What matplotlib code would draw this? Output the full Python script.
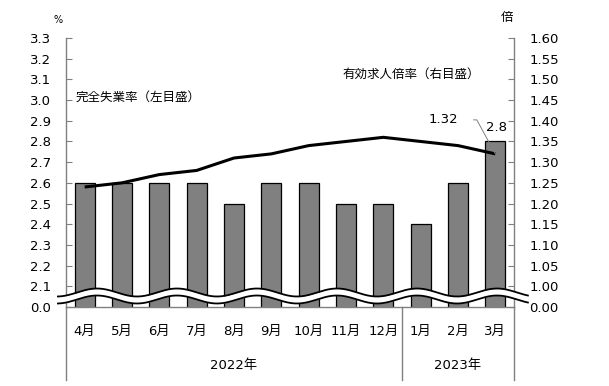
import matplotlib
matplotlib.use('Agg')
import matplotlib.pyplot as plt
import matplotlib.transforms as mtransforms
import numpy as np

plt.rcParams['font.family'] = ['DejaVu Sans', 'Noto Sans CJK JP']
plt.rcParams['font.size'] = 9

# data
months = ['4月', '5月', '6月', '7月', '8月', '9月', '10月', '11月', '12月', '1月', '2月', '3月']
years = ['2022年', '2023年']
year_span = [(0, 8), (9, 11)]
unemployment = [2.6, 2.6, 2.6, 2.6, 2.5, 2.6, 2.6, 2.5, 2.5, 2.4, 2.6, 2.8]
job_ratio = [1.24, 1.25, 1.27, 1.28, 1.31, 1.32, 1.34, 1.35, 1.36, 1.35, 1.34, 1.32]

left_ticks = [2.0, 2.1, 2.2, 2.3, 2.4, 2.5, 2.6, 2.7, 2.8, 2.9, 3.0, 3.1, 3.2, 3.3]
left_labels = ['0.0'] + ['%.1f' % t for t in left_ticks[1:]]
right_ticks = [0.95, 1.00, 1.05, 1.10, 1.15, 1.20, 1.25, 1.30, 1.35, 1.40, 1.45, 1.50, 1.55, 1.60]
right_labels = ['0.00'] + ['%.2f' % t for t in right_ticks[1:]]

grey = '#808080'

fig = plt.figure(figsize=(6.09, 3.86), dpi=100)
ax1 = fig.add_axes([66/609, 1-307/386, 448/609, 269/386])
ax2 = ax1.twinx()

x = np.arange(len(months))
ax1.bar(x, unemployment, width=0.54, color='#808080', edgecolor='black', linewidth=0.9, zorder=2)
ax1.set_ylim(2.0, 3.3)
ax1.set_xlim(-0.5, len(months) - 0.5)
ax1.set_yticks(left_ticks)
ax1.set_yticklabels(left_labels)

ax2.plot(x, job_ratio, color='black', lw=2.2, solid_capstyle='butt', zorder=3)
ax2.set_ylim(0.95, 1.60)
ax2.set_yticks(right_ticks)
ax2.set_yticklabels(right_labels)

for ax in (ax1, ax2):
    for s in ax.spines.values():
        s.set_visible(False)
ax1.spines['left'].set_visible(True)
ax1.spines['bottom'].set_visible(True)
ax2.spines['right'].set_visible(True)
for s in (ax1.spines['left'], ax1.spines['bottom'], ax2.spines['right']):
    s.set_color(grey)
    s.set_linewidth(1.0)

ax1.tick_params(axis='y', direction='in', length=4, color=grey, pad=11, labelsize=9.5)
ax2.tick_params(axis='y', direction='in', length=4, color=grey, pad=11, labelsize=9.5)
ax1.set_xticks(x)
ax1.set_xticklabels(months)
ax1.tick_params(axis='x', length=0, pad=13, labelsize=9.5)

# extended axis lines and year separator below the plot
ext = -0.271
for xa in (0.0, 1.0):
    ax1.plot([xa, xa], [0, ext], transform=ax1.transAxes, color=grey, lw=1.0, clip_on=False)
sep = ax1.get_xaxis_transform()
ax1.plot([year_span[0][1] + 0.5] * 2, [0, ext], transform=sep, color=grey, lw=1.0, clip_on=False)
for name, (a, b) in zip(years, year_span):
    ax1.text((a + b) / 2, -0.219, name, transform=sep, ha='center', va='center', fontsize=9.5)

# wavy axis break
blend = mtransforms.blended_transform_factory(ax2.transAxes, ax2.transData)
px = 0.05 / (269 / 13)
xs = np.linspace(-0.018, 1.031, 400)
yc = 0.95 + 11 * px + 4 * px * np.cos(2 * np.pi * (xs - 0.0692) / 0.1786)
ax2.fill_between(xs, yc - 3.5 * px, yc + 3.5 * px, color='white', transform=blend,
                 clip_on=False, zorder=5, lw=0)
ax2.plot(xs, yc + 3.5 * px, color='black', lw=1.3, transform=blend, clip_on=False, zorder=6)
ax2.plot(xs, yc - 3.5 * px, color='black', lw=1.3, transform=blend, clip_on=False, zorder=6)
ax2.set_ylim(0.95, 1.60)
ax1.set_xlim(-0.5, len(months) - 0.5)

# labels
ax1.text(0.022, 0.781, '完全失業率（左目盛）', transform=ax1.transAxes, ha='left', va='center', fontsize=9)
ax1.text(0.618, 0.866, '有効求人倍率（右目盛）', transform=ax1.transAxes, ha='left', va='center', fontsize=9)
ax1.text(-0.018, 1.067, '%', transform=ax1.transAxes, ha='center', va='center', fontsize=7)
ax1.text(0.984, 1.078, '倍', transform=ax1.transAxes, ha='center', va='center', fontsize=9)

last = len(months) - 1
ax2.annotate('%.1f' % unemployment[last], xy=(last, unemployment[last]), xycoords=ax1.transData,
             xytext=(1, 14), textcoords='offset pixels', ha='center', va='center', fontsize=9.5)
ax2.annotate('%.2f' % job_ratio[last], xy=(last, job_ratio[last]),
             xytext=(-52, 34), textcoords='offset pixels', ha='center', va='center', fontsize=9.5,
             arrowprops=dict(arrowstyle='-', color=grey, lw=0.7, shrinkA=9, shrinkB=0,
                             connectionstyle='angle,angleA=0,angleB=118.6,rad=0'))

fig.savefig('out.png', dpi=100)
